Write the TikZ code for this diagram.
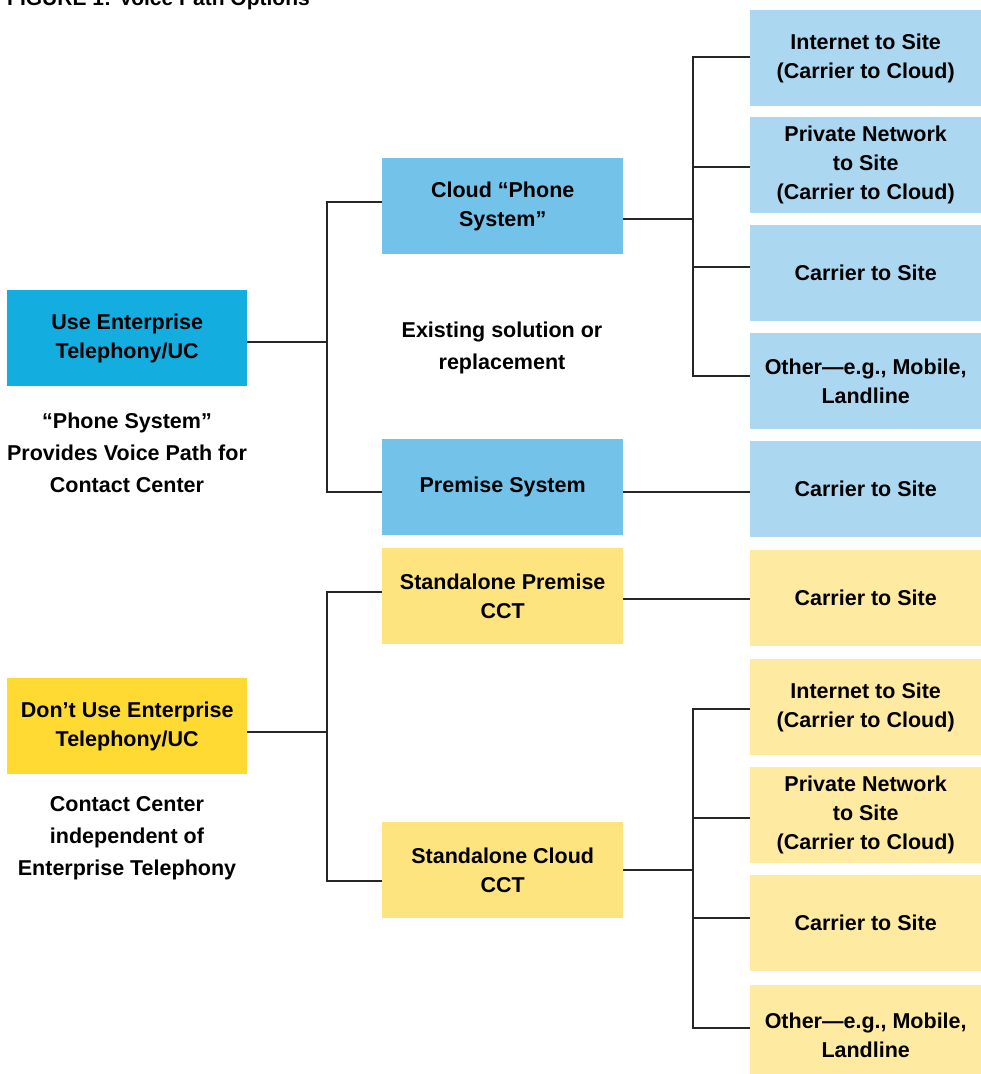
\documentclass[tikz,border=0pt]{standalone}
\usepackage{fontspec}
\setmainfont{Liberation Sans}
\begin{document}
\begin{tikzpicture}[x=1pt,y=-1pt,
  every node/.style={font=\bfseries\fontsize{21.5}{29}\selectfont, align=center, inner sep=0pt},
  box/.style={minimum width=#1, minimum height=96, anchor=north west},
  box/.default=241,
  blueA/.style={box=240, fill=cA},
  blueB/.style={box, fill=cB},
  blueC/.style={box=231, fill=cC},
  yelA/.style={box=240, fill=yA},
  yelB/.style={box, fill=yB},
  yelC/.style={box=231, fill=yC},
  note/.style={font=\bfseries\fontsize{21.5}{32}\selectfont},
  conn/.style={line width=1.4pt, draw=black!85}]
\definecolor{cA}{HTML}{13AEDF}
\definecolor{cB}{HTML}{72C2EA}
\definecolor{cC}{HTML}{ABD7F0}
\definecolor{yA}{HTML}{FFDA33}
\definecolor{yB}{HTML}{FDE47F}
\definecolor{yC}{HTML}{FFEAA1}
\useasboundingbox (0,0) rectangle (981,1074);
\node[anchor=base west, font=\bfseries\fontsize{21}{25}\selectfont] (title) at (7,5) {FIGURE 1: Voice Path Options};

% left
\node[blueA] (use) at (7,290) {Use Enterprise\\Telephony/UC};
\node[note] (usenote) at (127,453) {“Phone System”\\Provides Voice Path for\\Contact Center};
\node[yelA] (dont) at (7,678) {Don’t Use Enterprise\\Telephony/UC};
\node[note] (dontnote) at (127,838) {Contact Center\\independent of\\Enterprise Telephony};

% middle
\node[blueB] (cloud) at (382,158) {Cloud “Phone\\System”};
\node[note] (exist) at (502,348) {Existing solution or\\replacement};
\node[blueB] (prem) at (382,439) {Premise System};
\node[yelB] (sprem) at (382,548) {Standalone Premise\\CCT};
\node[yelB] (scloud) at (382,822) {Standalone Cloud\\CCT};

% right blue
\node[blueC] (r1) at (750,10) {Internet to Site\\(Carrier to Cloud)};
\node[blueC] (r2) at (750,117) {Private Network\\to Site\\(Carrier to Cloud)};
\node[blueC] (r3) at (750,225) {Carrier to Site};
\node[blueC] (r4) at (750,333) {Other—e.g., Mobile,\\Landline};
\node[blueC] (r5) at (750,441) {Carrier to Site};
% right yellow
\node[yelC] (r6) at (750,550) {Carrier to Site};
\node[yelC] (r7) at (750,659) {Internet to Site\\(Carrier to Cloud)};
\node[yelC] (r8) at (750,767) {Private Network\\to Site\\(Carrier to Cloud)};
\node[yelC] (r9) at (750,875) {Carrier to Site};
\node[yelC, minimum height=100] (r10) at (750,985) {Other—e.g., Mobile,\\Landline};

% junctions
\coordinate (j1) at (327,342);
\coordinate (j1a) at (327,202);
\coordinate (j1b) at (327,492);
\coordinate (j2) at (693,219);
\coordinate (j2a) at (693,57);
\coordinate (j2b) at (693,167);
\coordinate (j2c) at (693,267);
\coordinate (j2d) at (693,376);
\coordinate (j3) at (327,732);
\coordinate (j3a) at (327,592);
\coordinate (j3b) at (327,881);
\coordinate (j4) at (693,870);
\coordinate (j4a) at (693,709);
\coordinate (j4b) at (693,818);
\coordinate (j4c) at (693,918);
\coordinate (j4d) at (693,1028);

% connectors
\draw[conn] (use.east |- j1) -- (j1);
\draw[conn] (cloud.west |- j1a) -- (j1a) -- (j1b) -- (prem.west |- j1b);
\draw[conn] (cloud.east |- j2) -- (j2);
\draw[conn] (r1.west |- j2a) -- (j2a) -- (j2d) -- (r4.west |- j2d);
\draw[conn] (j2b) -- (r2.west |- j2b);
\draw[conn] (j2c) -- (r3.west |- j2c);
\draw[conn] (prem.east |- j1b) -- (r5.west |- j1b);

\draw[conn] (dont.east |- j3) -- (j3);
\draw[conn] (sprem.west |- j3a) -- (j3a) -- (j3b) -- (scloud.west |- j3b);
\draw[conn] (sprem.east |- 0,599) -- (r6.west |- 0,599);
\draw[conn] (scloud.east |- j4) -- (j4);
\draw[conn] (r7.west |- j4a) -- (j4a) -- (j4d) -- (r10.west |- j4d);
\draw[conn] (j4b) -- (r8.west |- j4b);
\draw[conn] (j4c) -- (r9.west |- j4c);
\end{tikzpicture}
\end{document}
